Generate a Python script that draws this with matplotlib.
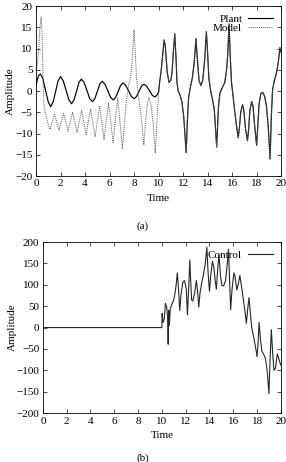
import matplotlib
matplotlib.use("Agg")
import matplotlib.pyplot as plt

plt.rcParams['font.family'] = ['Liberation Serif', 'DejaVu Serif']
plt.rcParams['font.size'] = 8

# (a) plant and model outputs
plant_t = [0.0, 0.1, 0.2, 0.35, 0.55, 0.78, 1.0, 1.2, 1.4, 1.6, 1.8, 2.0,
           2.22, 2.45, 2.68, 2.9, 3.1, 3.3, 3.5, 3.7, 3.92, 4.15, 4.38, 4.6,
           4.8, 5.0, 5.2, 5.4, 5.62, 5.85, 6.08, 6.3, 6.5, 6.7, 6.9, 7.1,
           7.32, 7.55, 7.78, 8.0, 8.2, 8.4, 8.6, 8.8, 9.02, 9.25, 9.48, 9.7,
           9.85]
plant_v = [1.2, 2.6, 3.6, 4.0, 3.0, 0.1, -2.6, -3.7, -2.5, -0.1, 2.4, 3.4,
           2.4, 0.2, -2.1, -3.0, -2.1, -0.1, 2.0, 2.8, 2.0, 0.15, -1.8, -2.5,
           -1.8, -0.1, 1.6, 2.3, 1.6, 0.1, -1.5, -2.1, -1.5, -0.1, 1.3, 1.9,
           1.35, 0.05, -1.3, -1.8, -1.3, -0.1, 1.1, 1.6, 1.15, 0.1, -1.0, -1.4,
           -1.0]

model_t = [0.0, 0.12, 0.22, 0.32, 0.42, 0.5, 0.57, 0.65, 0.8, 0.95, 1.14,
           1.32, 1.51, 1.7, 1.88, 2.06, 2.25, 2.43, 2.61, 2.8, 2.98, 3.17,
           3.35, 3.53, 3.72, 3.9, 4.08, 4.27, 4.45, 4.63, 4.82, 5.0, 5.19,
           5.37, 5.55, 5.74, 5.92, 6.1, 6.29, 6.48, 6.67, 6.85, 7.05, 7.2,
           7.35, 7.5, 7.65, 7.8, 7.9, 8.0, 8.1, 8.2, 8.35, 8.5, 8.65, 8.8,
           8.95, 9.1, 9.22, 9.4, 9.55, 9.73, 9.85]
model_v = [4.5, 6.5, 10.0, 15.0, 17.4, 13.0, 3.0, -3.5, -5.5, -7.5, -9.0,
           -7.2, -5.5, -7.3, -9.2, -7.2, -5.3, -7.3, -9.5, -7.2, -5.0, -7.3,
           -9.8, -7.2, -4.6, -7.3, -10.3, -7.2, -4.2, -7.4, -10.8, -7.2, -3.6,
           -7.4, -11.4, -7.0, -2.8, -7.4, -12.2, -6.5, -1.7, -7.5, -13.5, -8.0,
           -3.0, 0.5, 2.5, 5.5, 10.0, 14.4, 9.0, 3.0, -1.0, -4.0, -8.0, -12.7,
           -7.0, -2.5, -1.5, -3.5, -7.5, -14.6, -8.0]

# after t=10 the model follows the plant
shared_t = [10.0, 10.1, 10.2, 10.3, 10.45, 10.55, 10.7, 10.85, 11.0, 11.1,
            11.2, 11.32, 11.42, 11.5, 11.6, 11.75, 11.9, 12.05, 12.25, 12.35,
            12.45, 12.6, 12.75, 12.9, 13.05, 13.15, 13.3, 13.45, 13.6, 13.75,
            13.9, 14.0, 14.1, 14.25, 14.4, 14.55, 14.74, 14.88, 15.0, 15.2,
            15.4, 15.55, 15.65, 15.75, 15.85, 15.95, 16.05, 16.2, 16.35, 16.5,
            16.6, 16.7, 16.85, 16.95, 17.1, 17.25, 17.35, 17.45, 17.6, 17.7,
            17.85, 18.0, 18.1, 18.2, 18.35, 18.5, 18.65, 18.8, 18.95, 19.1,
            19.2, 19.3, 19.45, 19.6, 19.7, 19.8, 19.9, 20.0]
shared_v = [-0.3, 2.5, 4.5, 7.5, 12.0, 10.5, 4.5, 2.0, 2.5, 4.5,
            9.0, 13.5, 8.0, 2.0, 0.0, -1.0, -2.5, -6.0, -14.5, -7.0,
            -1.5, 1.0, 3.0, 6.5, 12.3, 8.0, 2.5, 1.3, 2.5, 7.0,
            14.0, 9.0, 3.0, 0.0, -2.0, -4.5, -13.2, -4.0, -0.5, 0.8,
            2.0, 5.0, 9.0, 15.8, 8.0, 2.0, -0.5, -4.5, -8.0, -11.0,
            -8.5, -5.0, -3.2, -4.5, -9.0, -11.7, -9.0, -4.5, -2.5, -3.5,
            -8.5, -12.8, -8.0, -3.0, -0.6, -0.3, -1.2, -3.5, -8.5, -16.0,
            -6.0, 0.3, 2.5, 4.0, 5.5, 7.5, 10.2, 9.0]

# (b) control signal
control_t = [0.0, 10.0, 10.02, 10.1, 10.2, 10.3, 10.42, 10.48, 10.53, 10.58,
             10.63, 10.7, 10.75, 10.85, 11.0, 11.1, 11.2, 11.3, 11.4, 11.5,
             11.6, 11.75, 11.9, 12.05, 12.15, 12.28, 12.35, 12.42, 12.5,
             12.6, 12.75, 12.9, 13.0, 13.1, 13.2, 13.35, 13.5, 13.65, 13.78,
             13.88, 14.0, 14.1, 14.25, 14.38, 14.48, 14.58, 14.7, 14.8, 14.93,
             15.05, 15.2, 15.35, 15.5, 15.6, 15.68, 15.78, 15.9, 16.05, 16.15,
             16.3, 16.45, 16.55, 16.7, 16.85, 17.0, 17.1, 17.22, 17.32, 17.45,
             17.55, 17.7, 17.9, 18.0, 18.08, 18.17, 18.28, 18.4, 18.55, 18.7,
             18.85, 19.0, 19.1, 19.2, 19.3, 19.42, 19.55, 19.7, 19.8, 19.9,
             20.0]
control_v = [0, 0, 33, 12, 20, 57, 45, 25, -39, 40,
             5, 42, 48, 55, 65, 80, 100, 128, 90, 40,
             75, 105, 110, 90, 30, 110, 158, 110, 65,
             62, 80, 110, 85, 48, 80, 105, 125, 150, 188,
             130, 85, 120, 155, 140, 110, 90, 140, 170, 120,
             98, 98, 110, 150, 183, 120, 42, 90, 128, 120,
             88, 105, 122, 95, 65, 35, 10, 45, 70, 30,
             0, -20, -50, -68, -40, 12, -25, -55, -62, -72,
             -100, -155, -70, -5, -55, -100, -95, -62, -70, -80,
             -88]

fig = plt.figure(figsize=(2.86, 4.62), dpi=100)

ax1 = fig.add_axes([0.126, 0.619, 0.857, 0.368])
ax1.plot(plant_t + shared_t, plant_v + shared_v, color='black', lw=0.85,
         label='Plant')
ax1.plot(model_t + shared_t, model_v + shared_v, color='0.4', lw=0.75,
         linestyle=(0, (1, 1)), label='Model')
ax1.set_xlim(0, 20)
ax1.set_ylim(-20, 20)
ax1.set_xticks(range(0, 21, 2))
ax1.set_yticks(range(-20, 21, 5))
ax1.set_xlabel('Time', labelpad=4)
ax1.set_ylabel('Amplitude', labelpad=0)
ax1.legend(loc='upper right', frameon=False, markerfirst=False,
           handlelength=2.3, handletextpad=0.5, borderaxespad=0.6,
           borderpad=0.1, labelspacing=0.0, fontsize=8)

ax2 = fig.add_axes([0.150, 0.106, 0.832, 0.370])
ax2.plot(control_t, control_v, color='0.15', lw=0.8, label='Control')
ax2.set_xlim(0, 20)
ax2.set_ylim(-200, 200)
ax2.set_xticks(range(0, 21, 2))
ax2.set_yticks(range(-200, 201, 50))
ax2.set_xlabel('Time', labelpad=4)
ax2.set_ylabel('Amplitude', labelpad=0)
ax2.legend(loc='upper right', frameon=False, markerfirst=False,
           handlelength=2.3, handletextpad=0.5, borderaxespad=0.6,
           borderpad=0.1, fontsize=8)

for ax in (ax1, ax2):
    ax.tick_params(direction='in', length=3, width=0.5, top=True, right=True,
                   labelsize=8, pad=2.5)
    for s in ax.spines.values():
        s.set_linewidth(0.6)

fig.text(0.5, 1 - 226 / 462, '(a)', ha='center', va='center', fontsize=8)
fig.text(0.5, 1 - 458 / 462, '(b)', ha='center', va='center', fontsize=8)

fig.savefig('out.png', dpi=100)
